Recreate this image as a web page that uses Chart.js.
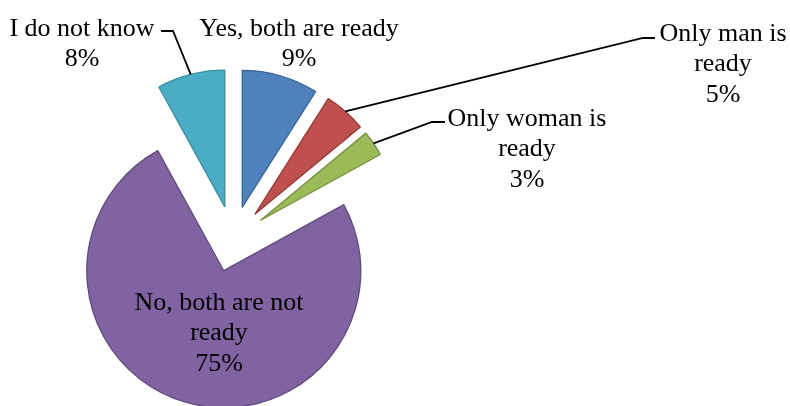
<!DOCTYPE html>
<html>
<head>
<meta charset="utf-8">
<script src="https://cdn.jsdelivr.net/npm/chart.js@4/dist/chart.umd.min.js"></script>
<style>
  html, body { margin: 0; padding: 0; background: #fff; }
  canvas { display: block; }
</style>
</head>
<body>
<canvas id="pieChart" width="790" height="406"></canvas>
<script>
const categories = ["Yes, both are ready", "Only man is ready", "Only woman is ready", "No, both are not ready", "I do not know"];
const shares = [9, 5, 3, 75, 8];
// label text as wrapped in the picture
const labelLines = [["Yes, both are ready"], ["Only man is", "ready"], ["Only woman is", "ready"], ["No, both are not", "ready"], ["I do not know"]];

const fills = ["#4F81BD", "#C0504D", "#9BBB59", "#8064A2", "#4BACC6"];
const edges = ["#3A6597", "#943C3A", "#77913F", "#5F4A7C", "#3A8BA0"];

// where each label sits (centre of first line) and where its leader line bends
const labelPos = [
  { x: 299, y: 29 },
  { x: 723, y: 34, bend: [643, 38], end: [655, 38] },
  { x: 527, y: 119, bend: [432, 122], end: [445, 122] },
  { x: 219, y: 303 },
  { x: 82, y: 29, bend: [173, 31], end: [161, 31] }
];
const EXPLODE = 33;
const LINE_H = 30.5;

const explodePlugin = {
  id: "explode",
  afterDatasetUpdate(chart, args) {
    args.meta.data.forEach(arc => {
      const mid = (arc.startAngle + arc.endAngle) / 2;
      arc.x += Math.cos(mid) * EXPLODE;
      arc.y += Math.sin(mid) * EXPLODE;
    });
  }
};

const labelPlugin = {
  id: "pieLabels",
  afterDraw(chart) {
    const ctx = chart.ctx;
    const arcs = chart.getDatasetMeta(0).data;
    ctx.save();
    ctx.font = '26px "Liberation Serif", "Times New Roman", serif';
    ctx.fillStyle = "#000";
    ctx.textAlign = "center";
    ctx.textBaseline = "middle";
    arcs.forEach((arc, i) => {
      const p = labelPos[i];
      if (p.bend) {
        const mid = (arc.startAngle + arc.endAngle) / 2;
        ctx.beginPath();
        ctx.moveTo(arc.x + Math.cos(mid) * arc.outerRadius, arc.y + Math.sin(mid) * arc.outerRadius);
        ctx.lineTo(p.bend[0], p.bend[1]);
        ctx.lineTo(p.end[0], p.end[1]);
        ctx.strokeStyle = "#000";
        ctx.lineWidth = 1.8;
        ctx.stroke();
      }
      const lines = labelLines[i].concat(shares[i] + "%");
      lines.forEach((t, k) => ctx.fillText(t, p.x, p.y + k * LINE_H));
    });
    ctx.restore();
  }
};

new Chart(document.getElementById("pieChart"), {
  type: "pie",
  data: {
    labels: categories,
    datasets: [{
      data: shares,
      backgroundColor: fills,
      borderColor: edges,
      borderWidth: 1.3,
      hoverOffset: 0,
      clip: false
    }]
  },
  options: {
    responsive: false,
    animation: false,
    events: [],
    radius: 137,
    layout: { padding: { left: 0, right: 324, top: 72, bottom: 0 } },
    plugins: { legend: { display: false }, tooltip: { enabled: false } }
  },
  plugins: [explodePlugin, labelPlugin]
});
</script>
</body>
</html>
